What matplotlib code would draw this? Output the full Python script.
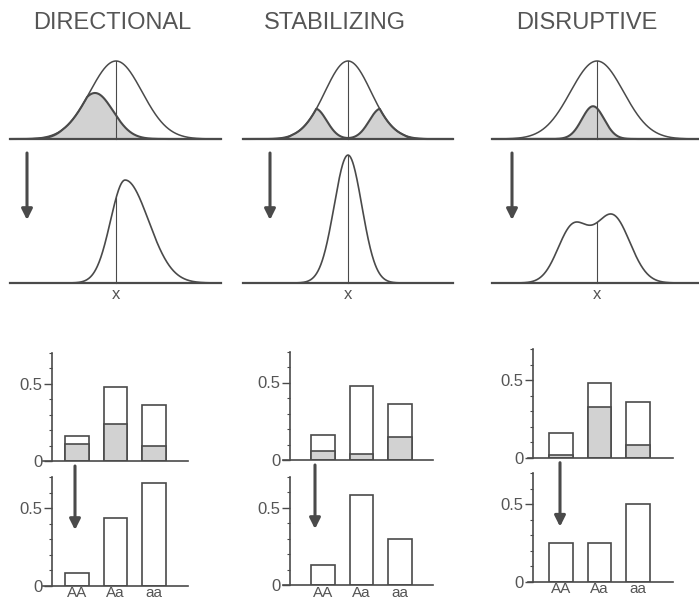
import numpy as np
import matplotlib.pyplot as plt
from matplotlib.ticker import MultipleLocator

plt.rcParams['font.family'] = ['Liberation Sans', 'DejaVu Sans']

titles = ["DIRECTIONAL", "STABILIZING", "DISRUPTIVE"]
genotypes = ["AA", "Aa", "aa"]

# genotype frequencies before selection (whole bar), surviving part (shaded), and after
freq_before = [[0.16, 0.48, 0.36], [0.16, 0.48, 0.36], [0.16, 0.48, 0.36]]
freq_selected = [[0.11, 0.24, 0.10], [0.06, 0.04, 0.15], [0.02, 0.33, 0.08]]
freq_after = [[0.08, 0.44, 0.66], [0.13, 0.58, 0.30], [0.25, 0.25, 0.50]]

# phenotype curves in units of the parent sd / parent peak height
# one component = (mean, sd left, sd right, height)
parent_parts = [(0.0, 1.0, 1.0, 1.0)]
selected_parts = [
    [(-0.81, 0.70, 0.70, 0.59)],
    [(-1.43, 0.50, 0.50, 0.39), (1.43, 0.50, 0.50, 0.39)],
    [(-0.15, 0.42, 0.42, 0.42)],
]
offspring_parts = [
    [(0.35, 0.56, 0.90, 1.32)],
    [(0.0, 0.60, 0.60, 1.64)],
    [(-0.92, 0.57, 0.57, 0.70), (0.58, 0.66, 0.66, 0.86)],
]

# layout, in pixels from the top-left corner
W, H = 699, 599
cols = [
    dict(title_x=112, center=116, sd=26.0, left=10, right=221, arrow1=27, arrow2=75,
         bax=52, bx0=43, bx1=188, bc0=77, zt=461, zb=585.7),
    dict(title_x=335, center=348, sd=23.0, left=243, right=453, arrow1=270, arrow2=315,
         bax=290, bx0=283, bx1=433, bc0=323, zt=460, zb=585),
    dict(title_x=587, center=597, sd=26.5, left=492, right=699, arrow1=512, arrow2=560,
         bax=533, bx0=528, bx1=673, bc0=561, zt=457.7, zb=581.7),
]
base_top, base_bot = 139, 283
peak_px = 78.0
bar_step = 38.5
bar_unit = 155.0

ink = '#4a4a4a'
txt = '#555555'
shade = '#d2d2d2'


def px_axes(fig, left, top, width, height):
    return fig.add_axes([left / W, 1 - (top + height) / H, width / W, height / H])


def curve(x, parts):
    y = np.zeros_like(x)
    for m, sl, sr, h in parts:
        s = np.where(x < m, sl, sr)
        y += h * np.exp(-0.5 * ((x - m) / s) ** 2)
    return y


fig = plt.figure(figsize=(W / 100, H / 100), dpi=100)

for i, c in enumerate(cols):
    fig.text(c['title_x'] / W, 1 - 23 / H, titles[i], ha='center', va='center',
             fontsize=17, color=txt)

    xl = ((c['left'] - c['center']) / c['sd'], (c['right'] - c['center']) / c['sd'])
    x = np.linspace(xl[0], xl[1], 600)
    parent = curve(x, parent_parts)

    # parents and the selected part
    ax = px_axes(fig, c['left'], base_top - 140, c['right'] - c['left'], 145)
    ax.set_xlim(xl)
    ax.set_ylim(-5 / peak_px, 140 / peak_px)
    ax.axis('off')
    sel = np.minimum(curve(x, selected_parts[i]), parent)
    ax.fill_between(x, 0, sel, color=shade, lw=0)
    ax.plot(x, parent, color=ink, lw=1.1)
    ax.plot(x, sel, color=ink, lw=1.5)
    ax.plot([0, 0], [0, 1], color=ink, lw=0.8)
    ax.plot(xl, [0, 0], color=ink, lw=1.6, clip_on=False)

    # offspring
    ax = px_axes(fig, c['left'], base_bot - 140, c['right'] - c['left'], 145)
    ax.set_xlim(xl)
    ax.set_ylim(-5 / peak_px, 140 / peak_px)
    ax.axis('off')
    off = curve(x, offspring_parts[i])
    ax.plot(x, off, color=ink, lw=1.2)
    ax.plot([0, 0], [0, curve(np.array([0.0]), offspring_parts[i])[0]], color=ink, lw=0.8)
    ax.plot(xl, [0, 0], color=ink, lw=1.6, clip_on=False)
    ax.annotate('x', xy=(0, 0), xytext=(0, -3), textcoords='offset points',
                ha='center', va='top', fontsize=12, color=txt)

    fig.add_artist(plt.Annotation('', xy=(c['arrow1'], H - 220), xytext=(c['arrow1'], H - 153),
                                  xycoords='figure pixels',
                                  arrowprops=dict(arrowstyle='-|>', lw=2.2, color=ink,
                                                  mutation_scale=16, shrinkA=0, shrinkB=0)))

    # genotype bars
    hgt = 0.7 * bar_unit
    xlim = ((c['bx0'] - c['bc0']) / bar_step, (c['bx1'] - c['bc0']) / bar_step)
    for row, zero in enumerate([c['zt'], c['zb']]):
        ax = px_axes(fig, c['bx0'], zero - hgt, c['bx1'] - c['bx0'], hgt)
        ax.set_xlim(xlim)
        ax.set_ylim(0, 0.7)
        pos = np.arange(3)
        if row == 0:
            ax.bar(pos, freq_before[i], width=0.6, facecolor='white', edgecolor=ink, lw=1.2)
            ax.bar(pos, freq_selected[i], width=0.6, facecolor=shade, edgecolor=ink, lw=1.2)
            ax.set_xticks([])
        else:
            ax.bar(pos, freq_after[i], width=0.6, facecolor='white', edgecolor=ink, lw=1.2)
            ax.set_xticks(pos)
            ax.set_xticklabels(genotypes, fontsize=11, color=txt)
            ax.tick_params(axis='x', length=0, pad=0.5)
        for s in ['top', 'right']:
            ax.spines[s].set_visible(False)
        ax.spines['left'].set_position(('data', (c['bax'] - c['bc0']) / bar_step))
        for s in ['left', 'bottom']:
            ax.spines[s].set_color(ink)
            ax.spines[s].set_linewidth(1.2)
        ax.set_yticks([0, 0.5])
        ax.set_yticklabels(['0', '0.5'], fontsize=12, color=txt)
        ax.yaxis.set_minor_locator(MultipleLocator(0.1))
        ax.tick_params(axis='y', which='major', length=6, width=1, color=ink, pad=1)
        ax.tick_params(axis='y', which='minor', length=2.5, width=0.8, color=ink)
        ax.patch.set_visible(False)

    fig.add_artist(plt.Annotation('', xy=(c['arrow2'], H - (c['zt'] + 69)),
                                  xytext=(c['arrow2'], H - (c['zt'] + 5)),
                                  xycoords='figure pixels',
                                  arrowprops=dict(arrowstyle='-|>', lw=2.2, color=ink,
                                                  mutation_scale=16, shrinkA=0, shrinkB=0)))

fig.savefig('out.png', dpi=100)
